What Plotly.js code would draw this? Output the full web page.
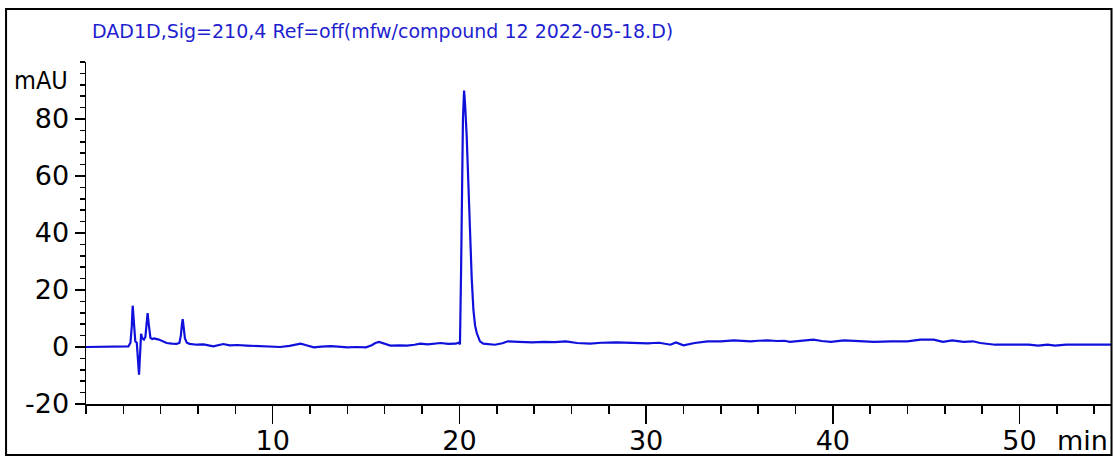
<!DOCTYPE html>
<html>
<head>
<meta charset="utf-8">
<script src="https://cdn.plot.ly/plotly-3.0.1.min.js"></script>
<style>
  html, body { margin: 0; padding: 0; background: #ffffff; }
  #chart { width: 1115px; height: 457px; }
</style>
</head>
<body>
<div id="chart"></div>
<script>
// Retention time (min)
const timeMin = [
  0, 1.0, 2.0, 2.27, 2.38, 2.45, 2.50, 2.56, 2.64, 2.72, 2.78, 2.84, 2.90, 2.95, 3.02, 3.10,
  3.18, 3.25, 3.30, 3.36, 3.45, 3.55, 3.66, 3.9, 4.1, 4.32, 4.6, 4.85, 5.0, 5.08, 5.14, 5.18,
  5.23, 5.30, 5.40, 5.55, 5.93, 6.3, 6.82, 7.1, 7.35, 7.7, 8.1, 8.6, 9.0, 9.5, 10.0, 10.4,
  10.9, 11.2, 11.5, 11.8, 12.2, 12.6, 13.1, 13.5, 14.0, 14.5, 15.0, 15.3, 15.5, 15.7, 15.9,
  16.3, 16.8, 17.2, 17.6, 17.9, 18.3, 18.7, 19.0, 19.4, 19.8, 19.95, 20.03, 20.09, 20.14,
  20.19, 20.25, 20.30, 20.39, 20.48, 20.57, 20.66, 20.75, 20.84, 20.93, 21.02, 21.1, 21.28,
  21.5, 21.9, 22.3, 22.6, 23.2, 23.9, 24.5, 25.1, 25.7, 26.3, 27.0, 27.6, 28.4, 29.1, 29.6,
  30.1, 30.4, 30.7, 31.3, 31.6, 32.0, 32.6, 33.3, 34.0, 34.7, 35.2, 35.6, 36.0, 36.5, 37.0,
  37.4, 37.7, 38.3, 38.96, 39.4, 39.9, 40.6, 41.3, 42.2, 43.1, 44.0, 44.7, 45.4, 45.9, 46.4,
  47.0, 47.5, 47.9, 48.3, 48.7, 49.5, 50.5, 51.0, 51.5, 51.9, 52.5, 53.5, 55
];
// Absorbance (mAU)
const signalMAU = [
  0, 0, 0, 0.2, 1.5, 7, 14.5, 8, 2, 1.5, -4, -9.7, -2, 4.6, 3.0, 2.6,
  3.5, 9, 11.9, 8, 3.2, 2.8, 3.0, 2.6, 2.0, 1.4, 1.2, 1.1, 1.4, 4, 8, 9.8,
  7, 3, 1.5, 1.1, 0.8, 0.9, 0.2, 0.6, 1.05, 0.6, 0.7, 0.5, 0.4, 0.3, 0.2, 0,
  0.4, 0.7, 1.15, 0.6, -0.1, 0.1, 0.3, 0.1, -0.1, 0.0, -0.1, 0.6, 1.4, 1.75, 1.3,
  0.5, 0.6, 0.5, 0.8, 1.15, 0.9, 1.2, 1.4, 1.1, 1.15, 1.5, 1, 27, 62,
  80, 90, 85.6, 74, 56, 38.8, 24, 13, 7.5, 4.9, 3, 2.0, 1.2,
  1.0, 0.8, 1.3, 2.0, 1.8, 1.6, 1.8, 1.7, 2.0, 1.4, 1.2, 1.5, 1.6, 1.4, 1.2,
  1.3, 1.4, 1.5, 0.8, 1.6, 0.6, 1.4, 2.0, 2.0, 2.3, 2.0, 2.0, 2.2, 2.3, 2.1,
  2.2, 1.8, 2.1, 2.6, 2.1, 1.8, 2.3, 2.0, 1.8, 2.0, 2.0, 2.6, 2.6, 1.8, 2.3,
  1.8, 2.0, 1.4, 1.0, 0.8, 0.8, 0.8, 0.5, 0.8, 0.5, 0.8, 0.8, 0.8
];
const xTickVals = [10, 20, 30, 40, 50];
const xTickText = ['10', '20', '30', '40', '50'];
const yTickVals = [-20, 0, 20, 40, 60, 80];
const yTickText = ['-20', '0', '20', '40', '60', '80'];
const signalTitle = 'DAD1D,Sig=210,4 Ref=off(mfw/compound 12 2022-05-18.D)';
const yUnit = 'mAU';
const xUnit = 'min';

const tickFont = { family: 'DejaVu Sans, Liberation Sans, Arial, sans-serif', size: 27, color: '#000000' };

const trace = {
  x: timeMin,
  y: signalMAU,
  type: 'scatter',
  mode: 'lines',
  line: { color: '#1010dc', width: 2.2 },
  hoverinfo: 'skip',
  showlegend: false
};

const layout = {
  width: 1115,
  height: 457,
  margin: { l: 86, r: 4, t: 62, b: 53 },
  paper_bgcolor: '#ffffff',
  plot_bgcolor: '#ffffff',
  showlegend: false,
  xaxis: {
    range: [0, 54.9],
    showgrid: false,
    zeroline: false,
    showline: true,
    linecolor: '#000000',
    linewidth: 1.5,
    ticks: 'outside',
    ticklen: 18,
    tickwidth: 1.5,
    tickcolor: '#000000',
    tickmode: 'array',
    tickvals: xTickVals,
    ticktext: xTickText,
    tickfont: tickFont,
    ticklabelstandoff: -6,
    minor: { tickmode: 'linear', tick0: 0, dtick: 2, ticks: 'outside', ticklen: 8, tickwidth: 1.5, tickcolor: '#000000', showgrid: false }
  },
  yaxis: {
    range: [-20, 100],
    showgrid: false,
    zeroline: false,
    showline: true,
    linecolor: '#000000',
    linewidth: 1.5,
    ticks: 'outside',
    ticklen: 10,
    tickwidth: 1.5,
    tickcolor: '#000000',
    tickmode: 'array',
    tickvals: yTickVals,
    ticktext: yTickText,
    tickfont: tickFont,
    minor: { tickmode: 'linear', tick0: -20, dtick: 4, ticks: 'outside', ticklen: 5, tickwidth: 1.5, tickcolor: '#000000', showgrid: false }
  },
  shapes: [
    {
      type: 'rect', xref: 'paper', yref: 'paper',
      x0: -0.078, x1: 1.0005, y0: -0.149, y1: 1.155,
      line: { color: '#000000', width: 2 }, fillcolor: 'rgba(0,0,0,0)', layer: 'above'
    }
  ],
  annotations: [
    {
      text: signalTitle, xref: 'paper', yref: 'paper', x: 0.004, y: 1.09,
      xanchor: 'left', yanchor: 'middle', showarrow: false,
      font: { family: 'DejaVu Sans, Liberation Sans, Arial, sans-serif', size: 19, color: '#1f1fd0' }
    },
    {
      text: yUnit, xref: 'paper', yref: 'paper', x: -0.0156, y: 0.947,
      xanchor: 'right', yanchor: 'middle', showarrow: false,
      font: { family: 'Liberation Sans Narrow, DejaVu Sans Condensed, Arial Narrow, sans-serif', size: 25, color: '#000000' }
    },
    {
      text: xUnit, xref: 'paper', yref: 'paper', x: 0.999, y: -0.108,
      xanchor: 'right', yanchor: 'middle', showarrow: false,
      font: tickFont
    }
  ]
};

Plotly.newPlot('chart', [trace], layout, { displayModeBar: false, staticPlot: true });
</script>
</body>
</html>
